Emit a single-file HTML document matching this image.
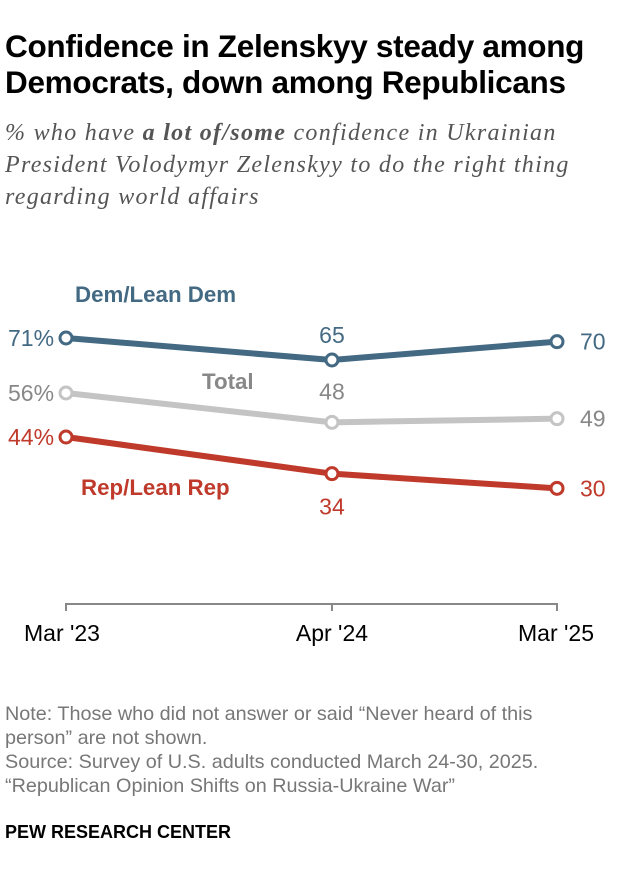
<!DOCTYPE html>
<html><head><meta charset="utf-8"><style>
body{margin:0;width:620px;height:880px;background:#fff;font-family:"Liberation Sans",sans-serif;overflow:hidden}
.t{position:absolute;left:5px;top:28px;font-size:31.5px;font-weight:bold;line-height:36px;color:#000;letter-spacing:-0.3px}
.s{position:absolute;left:5px;top:117px;font-family:"Liberation Serif",serif;font-style:italic;font-size:24px;line-height:32px;color:#555;letter-spacing:1.3px;white-space:nowrap}
.n{position:absolute;left:5px;top:702px;font-size:19.8px;line-height:24px;color:#777;white-space:nowrap}
.p{position:absolute;left:5px;top:822px;font-size:18px;font-weight:bold;color:#000}
</style></head><body>
<div class="t">Confidence in Zelenskyy steady among<br>Democrats, down among Republicans</div>
<div class="s">% who have <b>a lot of/some</b> confidence in Ukrainian<br>President Volodymyr Zelenskyy to do the right thing<br>regarding world affairs</div>
<svg id="c" width="620" height="880" style="position:absolute;left:0;top:0"></svg>
<div class="n">Note: Those who did not answer or said “Never heard of this<br>person” are not shown.<br>Source: Survey of U.S. adults conducted March 24-30, 2025.<br>“Republican Opinion Shifts on Russia-Ukraine War”</div>
<div class="p">PEW RESEARCH CENTER</div>
<script>
const categories=["Mar '23","Apr '24","Mar '25"];
const months=[0,13,24];
const dem=[71,65,70];
const total=[56,48,49];
const rep=[44,34,30];
const NS="http://www.w3.org/2000/svg";
const svg=document.getElementById('c');
const x=m=>66+m*(557-66)/24;
const y=v=>338+(71-v)*3.667;
function el(t,a,txt){const e=document.createElementNS(NS,t);for(const k in a)e.setAttribute(k,a[k]);if(txt!==undefined)e.textContent=txt;svg.appendChild(e);return e;}
let ax=el('path',{d:`M${x(0)} 611V604H${x(24)}V611M${x(13)} 604V611`,stroke:'#888','stroke-width':2,fill:'none'});


categories.forEach((c,i)=>{let t=el('text',{x:i==0?24:i==2?594:x(months[i]),y:641,'text-anchor':i==0?'start':i==2?'end':'middle','font-size':23,fill:'#000'},c);

});
const series=[
 {d:dem,c:'#436983',n:'dem',mid:-17},
 {d:total,c:'#c4c4c4',n:'total',mid:-23},
 {d:rep,c:'#bf3a2b',n:'rep',mid:41}];
const labC={dem:'#436983',total:'#888',rep:'#bf3a2b'};
series.forEach(s=>{
 let p=el('polyline',{points:s.d.map((v,i)=>x(months[i])+','+y(v)).join(' '),fill:'none',stroke:s.c,'stroke-width':6});
 
 
 s.d.forEach((v,i)=>{let c=el('circle',{cx:x(months[i]),cy:y(v),r:6,fill:'#fff',stroke:s.c,'stroke-width':3});
 
 
 let txt=i==0?v+'%':''+v,tx=i==0?8:i==2?580:x(months[i]),ty=i==1?y(v)+s.mid:y(v)+8;
 let t=el('text',{x:tx,y:ty,'text-anchor':i==1?'middle':'start','font-size':23,fill:labC[s.n]},txt);
 
 });
});
[['Dem/Lean Dem',75,302,'#436983','dem'],['Total',202,389,'#888','total'],['Rep/Lean Rep',81,495,'#bf3a2b','rep']].forEach(a=>{
 let t=el('text',{x:a[1],y:a[2],'font-size':22.3,'font-weight':'bold',fill:a[3]},a[0]);
 
 });
</script>
</body></html>
